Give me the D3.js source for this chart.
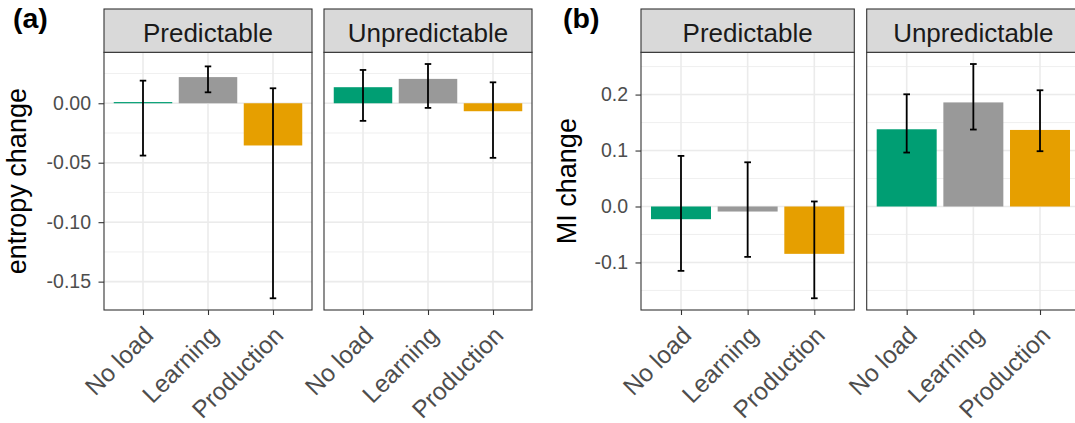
<!DOCTYPE html>
<html>
<head>
<meta charset="utf-8">
<script src="https://cdn.jsdelivr.net/npm/d3@7"></script>
<style>
  body { margin: 0; background: #fff; }
  svg { display: block; font-family: "Liberation Sans", Arial, sans-serif; }
</style>
</head>
<body>
<svg id="chart" width="1075" height="423"></svg>
<script>
// Data.
var conditions = ["No load", "Learning", "Production"];
var facets = ["Predictable", "Unpredictable"];
var colors = ["#009E73", "#999999", "#E69F00"];

// (a) entropy change
var entropyPredMean = [0.001, 0.022, -0.0355];
var entropyPredLo = [-0.044, 0.0092, -0.164];
var entropyPredHi = [0.019, 0.031, 0.0126];
var entropyUnpMean = [0.0135, 0.0205, -0.0067];
var entropyUnpLo = [-0.0148, -0.0039, -0.0459];
var entropyUnpHi = [0.028, 0.033, 0.0176];
var entropyTicks = [0, -0.05, -0.10, -0.15];

// (b) MI change
var miPredMean = [-0.0227, -0.009, -0.0846];
var miPredLo = [-0.115, -0.090, -0.164];
var miPredHi = [0.0904, 0.079, 0.009];
var miUnpMean = [0.138, 0.186, 0.1368];
var miUnpLo = [0.0964, 0.1375, 0.0988];
var miUnpHi = [0.2005, 0.2546, 0.2077];
var miTicks = [0.2, 0.1, 0, -0.1];

var svg = d3.select("#chart");

function drawPlot(cfg) {
    var g = svg.append("g");

    // Y scale with ggplot-like 5% expansion.
    var all = [0];
    cfg.series.forEach(s => { all = all.concat(s.mean, s.lo, s.hi); });
    var lo = d3.min(all), hi = d3.max(all), pad = (hi - lo) * 0.05;
    var y = d3.scaleLinear()
        .domain([lo - pad, hi + pad])
        .range([cfg.bottom, cfg.top]);

    // Minor grid halfway between major ticks.
    var minorTicks = [];
    var half = (cfg.ticks[0] - cfg.ticks[1]) / 2;
    for (var v = Math.ceil((lo - pad) / half) * half; v <= hi + pad + 1e-9; v += half) {
        minorTicks.push(v);
    }

    cfg.series.forEach(function(s, fi) {
        var x0 = cfg.lefts[fi];
        var x = d3.scalePoint()
            .domain(conditions)
            .range([x0, x0 + cfg.width])
            .padding(0.6);
        var bw = x.step() * 0.9;

        var p = g.append("g");
        p.append("rect").attr("x", x0).attr("y", cfg.top)
            .attr("width", cfg.width).attr("height", cfg.bottom - cfg.top)
            .attr("fill", "#fff");

        // grid
        p.selectAll(".minor").data(minorTicks).enter().append("line")
            .attr("x1", x0).attr("x2", x0 + cfg.width)
            .attr("y1", d => y(d)).attr("y2", d => y(d))
            .attr("stroke", "#EBEBEB").attr("stroke-width", 0.8);
        p.selectAll(".majorY").data(cfg.ticks).enter().append("line")
            .attr("x1", x0).attr("x2", x0 + cfg.width)
            .attr("y1", d => y(d)).attr("y2", d => y(d))
            .attr("stroke", "#EBEBEB").attr("stroke-width", 1.6);
        p.selectAll(".majorX").data(conditions).enter().append("line")
            .attr("x1", d => x(d)).attr("x2", d => x(d))
            .attr("y1", cfg.top).attr("y2", cfg.bottom)
            .attr("stroke", "#EBEBEB").attr("stroke-width", 1.6);

        // bars
        p.selectAll(".bar").data(s.mean).enter().append("rect")
            .attr("x", (d, i) => x(conditions[i]) - bw / 2)
            .attr("width", bw)
            .attr("y", d => y(Math.max(0, d)))
            .attr("height", d => Math.max(1, Math.abs(y(d) - y(0))))
            .attr("fill", (d, i) => colors[i]);

        // error bars
        var eb = p.selectAll(".err").data(conditions).enter().append("g")
            .attr("stroke", "#000").attr("stroke-width", 1.8);
        var cap = x.step() * 0.05;
        eb.append("line")
            .attr("x1", d => x(d)).attr("x2", d => x(d))
            .attr("y1", (d, i) => y(s.lo[i])).attr("y2", (d, i) => y(s.hi[i]));
        eb.append("line")
            .attr("x1", d => x(d) - cap).attr("x2", d => x(d) + cap)
            .attr("y1", (d, i) => y(s.lo[i])).attr("y2", (d, i) => y(s.lo[i]));
        eb.append("line")
            .attr("x1", d => x(d) - cap).attr("x2", d => x(d) + cap)
            .attr("y1", (d, i) => y(s.hi[i])).attr("y2", (d, i) => y(s.hi[i]));

        // panel border
        p.append("rect").attr("x", x0).attr("y", cfg.top)
            .attr("width", cfg.width).attr("height", cfg.bottom - cfg.top)
            .attr("fill", "none").attr("stroke", "#333333").attr("stroke-width", 1.1);

        // strip
        p.append("rect").attr("x", x0).attr("y", cfg.stripTop)
            .attr("width", cfg.width).attr("height", cfg.top - cfg.stripTop)
            .attr("fill", "#D9D9D9").attr("stroke", "#333333").attr("stroke-width", 1.1);
        p.append("text")
            .attr("x", x0 + cfg.width / 2)
            .attr("y", 41.5)
            .attr("text-anchor", "middle")
            .attr("font-size", 26)
            .attr("fill", "#1A1A1A")
            .text(facets[fi]);

        // x axis
        var xAxis = d3.axisBottom(x).tickSize(5).tickSizeOuter(0).tickFormat("");
        var xa = p.append("g").attr("transform", "translate(0," + cfg.bottom + ")").call(xAxis);
        xa.select(".domain").remove();
        xa.selectAll(".tick line").attr("stroke", "#333333").attr("stroke-width", 1.1);
        p.selectAll(".xlab").data(conditions).enter().append("text")
            .attr("transform", d => "translate(" + (x(d) - 0.5) + "," + (cfg.bottom + 14.5) + ") rotate(-45)")
            .attr("text-anchor", "end")
            .attr("dy", "0.72em")
            .attr("font-size", 24.5)
            .attr("fill", "#4D4D4D")
            .text(d => d);
    });

    // y axis
    var yAxis = d3.axisLeft(y).tickValues(cfg.ticks).tickSize(5.5)
        .tickPadding(7.5).tickFormat(d3.format(cfg.fmt));
    var ya = g.append("g").attr("transform", "translate(" + cfg.lefts[0] + ",0)").call(yAxis);
    ya.select(".domain").remove();
    ya.selectAll(".tick line").attr("stroke", "#333333").attr("stroke-width", 1.1);
    ya.selectAll(".tick text").attr("font-size", 19.5).attr("fill", "#4D4D4D")
        .attr("font-family", "Liberation Sans, Arial, sans-serif")
        .text(d => d3.format(cfg.fmt)(d).replace("−", "-"));

    // axis title
    g.append("text")
        .attr("transform", "translate(" + cfg.titleX + "," + (cfg.top + cfg.bottom) / 2 + ") rotate(-90)")
        .attr("text-anchor", "middle")
        .attr("dy", "0.35em")
        .attr("font-size", 27)
        .attr("fill", "#000")
        .text(cfg.title);

    // tag
    g.append("text")
        .attr("x", cfg.tagX).attr("y", 27.5)
        .attr("font-size", 28.5).attr("font-weight", "bold")
        .attr("fill", "#000")
        .text(cfg.tag);
}

drawPlot({
    series: [
        {mean: entropyPredMean, lo: entropyPredLo, hi: entropyPredHi},
        {mean: entropyUnpMean, lo: entropyUnpLo, hi: entropyUnpHi}
    ],
    ticks: entropyTicks, fmt: ".2f",
    lefts: [104, 324], width: 208,
    stripTop: 9, top: 52.3, bottom: 310,
    title: "entropy change", titleX: 17,
    tag: "(a)", tagX: 13
});

drawPlot({
    series: [
        {mean: miPredMean, lo: miPredLo, hi: miPredHi},
        {mean: miUnpMean, lo: miUnpLo, hi: miUnpHi}
    ],
    ticks: miTicks, fmt: ".1f",
    lefts: [641, 866.7], width: 213.3,
    stripTop: 9, top: 52.3, bottom: 310,
    title: "MI change", titleX: 567,
    tag: "(b)", tagX: 563
});
</script>
</body>
</html>
